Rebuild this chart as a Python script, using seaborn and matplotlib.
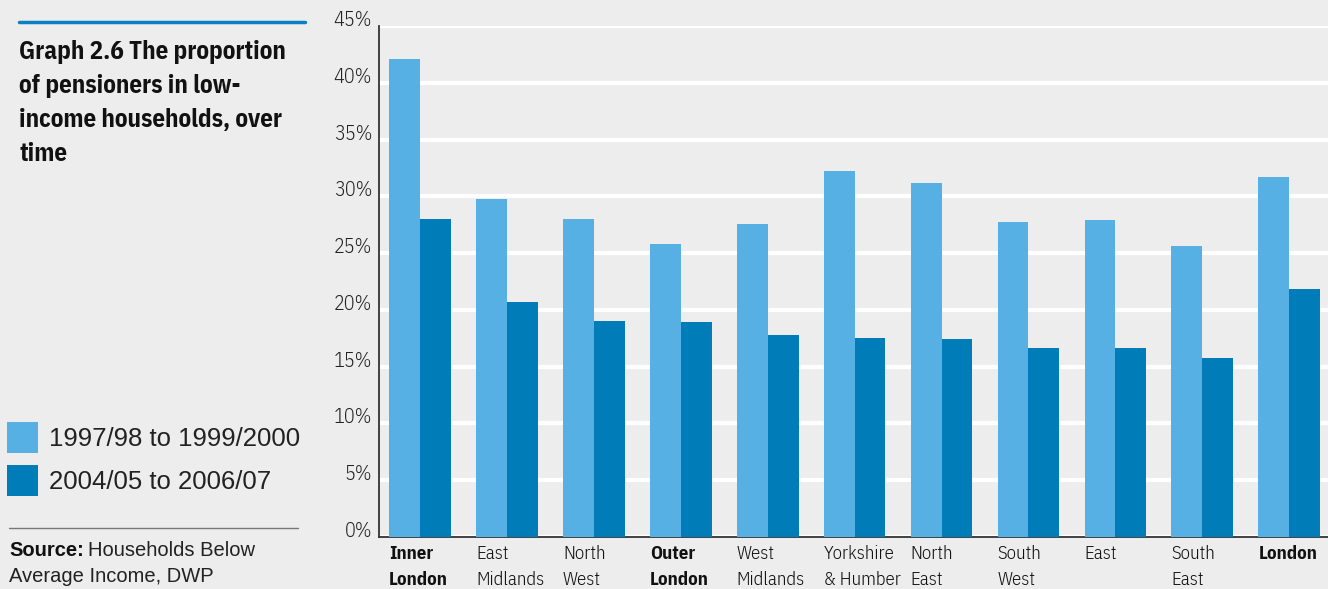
import matplotlib
matplotlib.use("Agg")
import matplotlib.pyplot as plt
import matplotlib.transforms as mtransforms
from matplotlib import font_manager
import seaborn as sns
import pandas as pd

# Regions and the two survey periods
regions = ["Inner\nLondon", "East\nMidlands", "North\nWest", "Outer\nLondon",
           "West\nMidlands", "Yorkshire\n& Humber", "North\nEast", "South\nWest",
           "East", "South\nEast", "London"]
bold_regions = {"Inner\nLondon", "Outer\nLondon", "London"}
periods = ["1997/98 to 1999/2000", "2004/05 to 2006/07"]

# Percentage of pensioners in low-income households
early = [42.1, 29.8, 28.0, 25.8, 27.6, 32.2, 31.2, 27.7, 27.9, 25.6, 31.7]
late = [28.0, 20.7, 19.0, 18.9, 17.8, 17.5, 17.4, 16.6, 16.6, 15.8, 21.8]

yticks = [0, 5, 10, 15, 20, 25, 30, 35, 40, 45]

LIGHT = "#57b0e3"
DARK = "#007db8"
BG = "#ededed"

installed = {f.name for f in font_manager.fontManager.ttflist}


def pick(*families):
    for fam in families:
        if fam in installed:
            return fam
    return "DejaVu Sans"


NARROW = pick("IBM Plex Sans Condensed", "Liberation Sans Narrow", "Liberation Sans")
REG = pick("Liberation Sans", "DejaVu Sans")

df = pd.DataFrame({
    "region": regions * 2,
    "period": [periods[0]] * len(regions) + [periods[1]] * len(regions),
    "value": early + late,
})

sns.set_theme(style="white")
plt.rcParams["font.family"] = [REG, "DejaVu Sans"]

fig = plt.figure(figsize=(13.28, 5.89), dpi=100, facecolor=BG)
ax = fig.add_axes([379 / 1328, 1 - 537 / 589, 1 - 379 / 1328, (537 - 26) / 589])
ax.set_facecolor(BG)

bar_w = 0.71
sns.barplot(data=df, x="region", y="value", hue="period", order=regions,
            hue_order=periods, palette=[LIGHT, DARK], width=bar_w,
            saturation=1, dodge=True, ax=ax, edgecolor="none", linewidth=0,
            zorder=3)

ax.set_xlim(-0.47, len(regions) - 0.555)
ax.set_ylim(0, 45)
ax.set_yticks(yticks)
# percentage labels rest on their gridlines
ax.set_yticklabels([f"{v}%" for v in yticks], fontfamily=NARROW, fontweight=300,
                   fontsize=14.5, color="#222222", va="baseline")
ax.yaxis.grid(True, color="white", linewidth=3.0, zorder=0)
ax.xaxis.grid(False)
ax.set_axisbelow(True)
ax.tick_params(axis="both", length=0)
ax.tick_params(axis="y", pad=5)
ax.set_xlabel("")
ax.set_ylabel("")
ax.set_xticks(range(len(regions)))
ax.set_xticklabels([])
for side in ("top", "right"):
    ax.spines[side].set_visible(False)
for side in ("left", "bottom"):
    ax.spines[side].set_color("#333333")
    ax.spines[side].set_linewidth(1.3)

# Category labels, left-aligned with each bar pair
trans = mtransforms.blended_transform_factory(ax.transData, fig.transFigure)
for i, name in enumerate(regions):
    is_bold = name in bold_regions
    ax.text(i - bar_w / 2, 1 - 545 / 589, name, transform=trans, ha="left",
            va="top", fontfamily=NARROW, fontsize=13.5, linespacing=1.55,
            fontweight="bold" if is_bold else 300,
            color="#111111")

# Legend in the left margin
sns.move_legend(ax, loc="upper left", bbox_to_anchor=(7 / 1328, 1 - 422 / 589),
                bbox_transform=fig.transFigure, frameon=False, title=None,
                fontsize=18.5, handlelength=1.2, handleheight=1.45,
                handletextpad=0.42, labelspacing=0.5, borderpad=0,
                borderaxespad=0)
for t in ax.get_legend().get_texts():
    t.set_color("#222222")

# Title block
fig.add_artist(plt.Line2D([19 / 1328, 305 / 1328], [1 - 22 / 589, 1 - 22 / 589],
                          color="#0a80c2", linewidth=2.5))
fig.text(19 / 1328, 1 - 40 / 589,
         "Graph 2.6 The proportion\nof pensioners in low-\nincome households, over\ntime",
         ha="left", va="top", fontfamily=NARROW, fontweight="bold", fontsize=18,
         linespacing=1.53, color="#111111")

# Source note
fig.add_artist(plt.Line2D([9 / 1328, 298 / 1328], [1 - 528 / 589, 1 - 528 / 589],
                          color="#777777", linewidth=1.0))
src = fig.text(9 / 1328, 1 - 550 / 589, "Source:", ha="left", va="center",
               fontweight="bold", fontsize=14.5, color="#111111")
fig.canvas.draw()
bb = src.get_window_extent(fig.canvas.get_renderer())
fig.text(bb.x1 / 1328 + 4 / 1328, 1 - 550 / 589, "Households Below", ha="left",
         va="center", fontsize=14.5, color="#222222")
fig.text(9 / 1328, 1 - 576 / 589, "Average Income, DWP", ha="left", va="center",
         fontsize=14.5, color="#222222")

fig.savefig("out.png", dpi=100, facecolor=BG)
